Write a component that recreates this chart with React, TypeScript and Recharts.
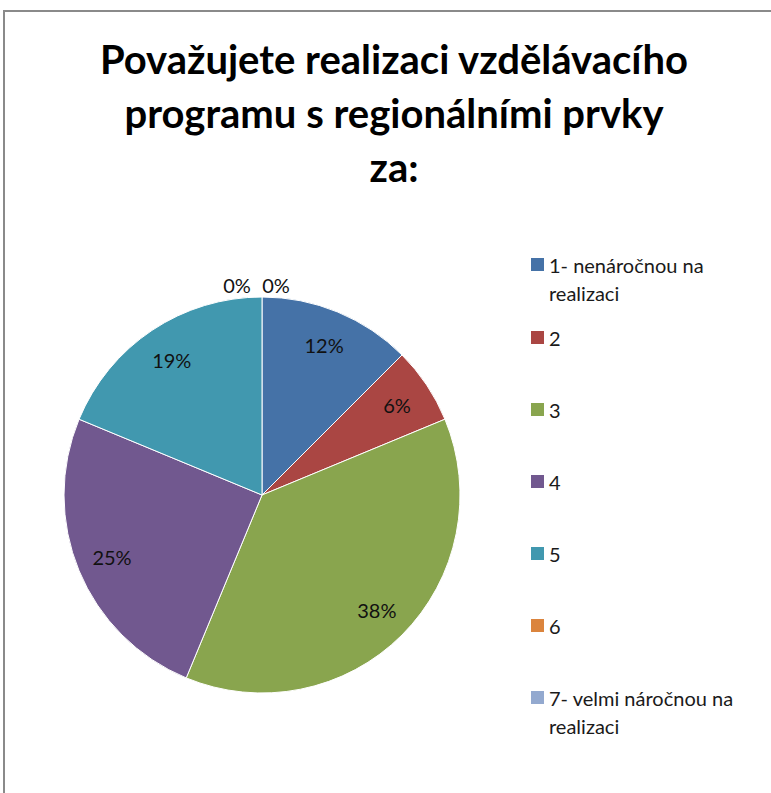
import React from "react";
import { PieChart, Pie, Cell, Legend } from "recharts";

const titleLines = [
  "Považujete realizaci vzdělávacího",
  "programu s regionálními prvky",
  "za:",
];
const categories = [
  "1- nenáročnou na realizaci",
  "2",
  "3",
  "4",
  "5",
  "6",
  "7- velmi náročnou na realizaci",
];
const shares = [12.5, 6.25, 37.5, 25, 18.75, 0, 0];
const percentLabels = ["12%", "6%", "38%", "25%", "19%", "0%", "0%"];
const colors = ["#4572A7", "#AA4643", "#89A54E", "#71588F", "#4198AF", "#DB843D", "#93A9CF"];

const data = categories.map((name, i) => ({ name, value: shares[i], label: percentLabels[i] }));

const FONT = "Lato, 'Open Sans', sans-serif";
const RAD = Math.PI / 180;

const renderLabel = (props: any) => {
  const { cx, cy, midAngle, outerRadius, index } = props;
  let x: number;
  let y: number;
  if (shares[index] === 0) {
    const zeroIdx = index - 5;
    x = cx - 25 + zeroIdx * 39;
    y = cy - outerRadius - 12;
  } else {
    const r = outerRadius * 0.82;
    x = cx + r * Math.cos(-midAngle * RAD);
    y = cy + r * Math.sin(-midAngle * RAD);
  }
  return (
    <text
      x={x}
      y={y}
      textAnchor="middle"
      dominantBaseline="central"
      fill="#111"
      fontSize={20}
      fontFamily={FONT}
    >
      {percentLabels[index]}
    </text>
  );
};

const renderLegend = () => (
  <div style={{ position: "relative", width: 240, height: 500, fontFamily: FONT }}>
    {categories.map((name, i) => (
      <div
        key={name}
        style={{
          position: "absolute",
          left: 0,
          top: i * 72 + (i === 0 ? 0 : 1) - 7,
          display: "flex",
          alignItems: "flex-start",
        }}
      >
        <div
          style={{
            width: 13,
            height: 13,
            marginTop: 7,
            background: colors[i],
            flex: "0 0 auto",
          }}
        />
        <div
          style={{
            marginLeft: 5,
            width: 200,
            fontSize: 20,
            lineHeight: "28px",
            color: "#1a1a1a",
          }}
        >
          {name}
        </div>
      </div>
    ))}
  </div>
);

export default function App() {
  return (
    <div style={{ position: "relative", width: 771, height: 793, overflow: "hidden", background: "#fff" }}>
      <style>{`body{margin:0;}`}</style>
      <div
        style={{
          position: "absolute",
          left: 3,
          top: 10,
          width: 820,
          height: 820,
          border: "2px solid #8a8a8a",
        }}
      />
      <svg
        width={771}
        height={200}
        style={{ position: "absolute", left: 0, top: 0 }}
      >
        {titleLines.map((line, i) => (
          <text
            key={i}
            x={394}
            y={74 + i * 54}
            textAnchor="middle"
            fontFamily={FONT}
            fontWeight="bold"
            fontSize={40}
            fill="#000"
          >
            {line}
          </text>
        ))}
      </svg>
      <div style={{ position: "absolute", left: 0, top: 0 }}>
        <PieChart width={771} height={793} margin={{ top: 0, right: 0, bottom: 0, left: 0 }}>
          <Pie
            data={data}
            dataKey="value"
            nameKey="name"
            cx={262}
            cy={495}
            outerRadius={198}
            startAngle={90}
            endAngle={-270}
            stroke="#ffffff"
            strokeWidth={1}
            label={renderLabel}
            labelLine={false}
            isAnimationActive={false}
          >
            {data.map((d, i) => (
              <Cell key={d.name} fill={colors[i]} />
            ))}
          </Pie>
          <Legend
            content={renderLegend}
            layout="vertical"
            wrapperStyle={{ position: "absolute", left: 531, top: 258, width: 240 }}
          />
        </PieChart>
      </div>
    </div>
  );
}
